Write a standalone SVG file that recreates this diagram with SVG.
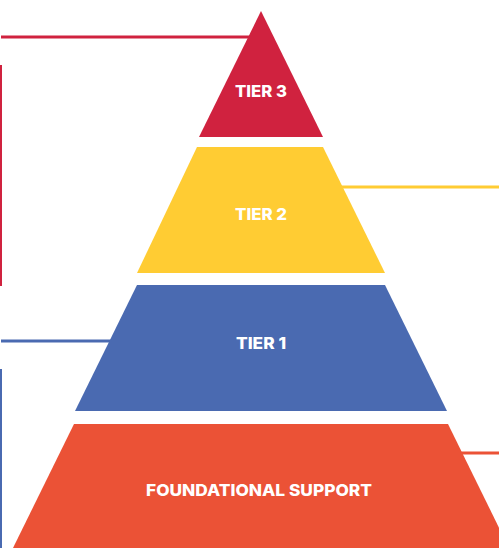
<svg xmlns="http://www.w3.org/2000/svg" width="499" height="548" viewBox="0 0 499 548">
<style>
.lbl{font-family:Inter,"Open Sans","Liberation Sans",sans-serif;font-weight:800;font-size:16px;fill:#FFFFFF;text-anchor:middle}
.ln{stroke-width:3;fill:none}
</style>
<rect width="499" height="548" fill="#FFFFFF"/>
<g id="connectors">
<line class="ln" x1="1" y1="37" x2="255" y2="37" stroke="#D0223F"/>
<line x1="1" y1="65" x2="1" y2="286" stroke="#D0223F" stroke-width="2"/>
<line class="ln" x1="335" y1="187" x2="499" y2="187" stroke="#FFCC33"/>
<line class="ln" x1="1" y1="341" x2="115" y2="341" stroke="#4A6AB1"/>
<line x1="1" y1="369" x2="1" y2="548" stroke="#4A6AB1" stroke-width="2"/>
<line class="ln" x1="455" y1="453" x2="499" y2="453" stroke="#EB5236"/>
</g>
<g id="tier3">
<polygon points="261,11 323,137 199,137" fill="#D0223F"/>
<text class="lbl" x="261" y="97" textLength="52" lengthAdjust="spacingAndGlyphs">TIER 3</text>
</g>
<g id="tier2">
<polygon points="197,147 323,147 385,273 137,273" fill="#FFCC33"/>
<text class="lbl" x="261" y="220" textLength="52" lengthAdjust="spacingAndGlyphs">TIER 2</text>
</g>
<g id="tier1">
<polygon points="137,285 385,285 447,411 75,411" fill="#4A6AB1"/>
<text class="lbl" x="261" y="349" textLength="50" lengthAdjust="spacingAndGlyphs">TIER 1</text>
</g>
<g id="foundational">
<polygon points="74,424 448,424 509,548 13,548" fill="#EB5236"/>
<text class="lbl" x="259" y="496" textLength="226" lengthAdjust="spacingAndGlyphs">FOUNDATIONAL SUPPORT</text>
</g>
</svg>
